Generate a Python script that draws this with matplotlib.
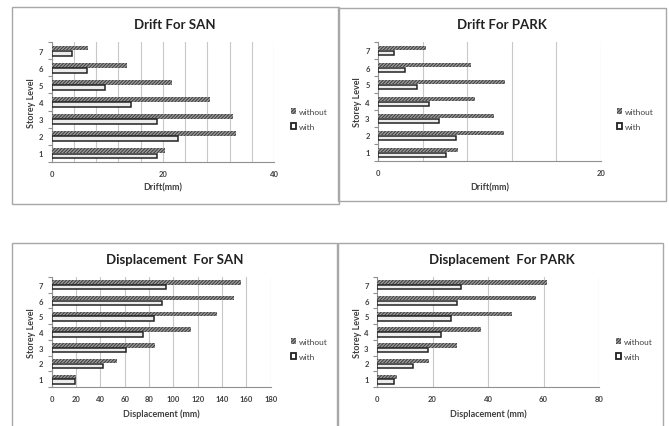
import numpy as np
import matplotlib
matplotlib.use("Agg")
import matplotlib.pyplot as plt
from matplotlib.patches import Rectangle, Patch

plt.rcParams['font.family'] = ['Lato', 'DejaVu Sans']
plt.rcParams['hatch.linewidth'] = 0.7

#%% Data
storeys = [1, 2, 3, 4, 5, 6, 7]

drift_san_without = [20.3, 33.1, 32.6, 28.4, 21.6, 13.6, 6.6]
drift_san_with = [19.0, 22.7, 18.9, 14.2, 9.6, 6.4, 3.7]

drift_park_without = [7.2, 11.3, 10.4, 8.7, 11.4, 8.3, 4.3]
drift_park_with = [6.1, 7.0, 5.5, 4.6, 3.5, 2.4, 1.4]

disp_san_without = [20.3, 53.4, 85.2, 114.5, 135.6, 149.6, 155.6]
disp_san_with = [19.2, 41.9, 60.8, 74.8, 84.1, 91.0, 94.2]

disp_park_without = [7.1, 18.6, 28.8, 37.6, 48.8, 57.2, 61.4]
disp_park_with = [6.2, 13.1, 18.5, 23.0, 26.5, 28.9, 30.2]

W, H = 669, 427
fig = plt.figure(figsize=(W / 100, H / 100), dpi=100)
fig.patch.set_facecolor('white')

TXT = '#404040'
GRID = '#c8c8c8'
HATCH_FACE = '#9a9a9a'
HATCH_LINE = '#3c3c3c'
HATCH = '//////////'


def px_rect(x0, y0, x1, y1):
    # pixel box (from top-left) -> figure fraction rect
    return [x0 / W, 1 - y1 / H, (x1 - x0) / W, (y1 - y0) / H]


def frame(x0, y0, x1, y1):
    fig.patches.append(Rectangle((x0 / W, 1 - y1 / H), (x1 - x0) / W, (y1 - y0) / H,
                                 transform=fig.transFigure, fill=False,
                                 edgecolor='#a8a8a8', linewidth=1.0, zorder=0))


def storey_chart(box, without, with_, title, xlabel, xmax, major, minor,
                 title_xy, xlabel_y, ylabel_x, legend_xy):
    ax = fig.add_axes(px_rect(*box))
    y = np.array(storeys)
    h = 0.28
    # "without" series: dense dark hatch
    ax.barh(y + 0.15, without, height=h, color=HATCH_FACE, edgecolor=HATCH_LINE,
            linewidth=0, hatch=HATCH, zorder=3)
    # "with" series: light fill with dark outline
    ax.barh(y - 0.15, with_, height=h, color='#ececec', edgecolor='#222222',
            linewidth=1.1, zorder=3)

    ax.set_xlim(0, xmax)
    ax.set_ylim(0.5, 7.5)
    ax.set_xticks(np.arange(0, xmax + 0.1, major))
    ax.set_xticks(np.arange(0, xmax + 0.1, minor), minor=True)
    ax.set_yticks(storeys)
    ax.set_yticks(np.arange(0.5, 7.6, 1.0), minor=True)
    ax.grid(axis='x', which='both', color=GRID, linewidth=0.8, zorder=0)
    ax.tick_params(axis='x', which='both', length=0, labelsize=5.5,
                   labelcolor=TXT, pad=6)
    ax.tick_params(axis='y', which='major', length=0, labelsize=5.5,
                   labelcolor=TXT, pad=6)
    ax.tick_params(axis='y', which='minor', length=3, color='#909090', width=0.8)
    for lab in ax.get_xticklabels() + ax.get_yticklabels():
        lab.set_fontweight('bold')
    for s in ['top', 'right']:
        ax.spines[s].set_visible(False)
    for s in ['left', 'bottom']:
        ax.spines[s].set_color('#909090')
        ax.spines[s].set_linewidth(0.8)

    fig.text(title_xy[0] / W, 1 - title_xy[1] / H, title, ha='center', va='center',
             fontsize=9.5, fontweight='bold', color='#222222')
    fig.text((box[0] + box[2]) / 2 / W, 1 - xlabel_y / H, xlabel, ha='center',
             va='center', fontsize=6.5, fontweight='bold', color=TXT)
    fig.text(ylabel_x / W, 1 - (box[1] + box[3]) / 2 / H, 'Storey Level', ha='center',
             va='center', rotation=90, fontsize=6.5, fontweight='bold', color=TXT)

    handles = [Patch(facecolor=HATCH_FACE, edgecolor=HATCH_LINE, linewidth=0, hatch=HATCH),
               Patch(facecolor='white', edgecolor='#222222', linewidth=1.3)]
    fig.legend(handles, ['without', 'with'], loc='center left',
               bbox_to_anchor=(legend_xy[0] / W, 1 - legend_xy[1] / H),
               frameon=False, fontsize=6, handlelength=0.6, handleheight=0.7,
               handletextpad=0.3, labelspacing=1.0, labelcolor=TXT,
               borderaxespad=0, borderpad=0)
    return ax


#%% Frames around each chart
frame(12, 8, 339, 205)
frame(338, 9, 666, 202)
frame(12, 244, 337, 440)
frame(338, 244, 663, 440)

#%% Charts
storey_chart((51.7, 43, 274, 163), drift_san_without, drift_san_with,
             'Drift For SAN', 'Drift(mm)', 40, 20, 4,
             (175, 25), 188, 32, (291, 120))
storey_chart((378, 43, 601, 162), drift_park_without, drift_park_with,
             'Drift For PARK', 'Drift(mm)', 20, 20, 4,
             (502, 25), 188, 357, (617, 120))
storey_chart((51.7, 278, 270.7, 388), disp_san_without, disp_san_with,
             'Displacement  For SAN', 'Displacement (mm)', 180, 20, 20,
             (175, 260), 414, 32, (291, 350))
storey_chart((377, 278, 599, 388), disp_park_without, disp_park_with,
             'Displacement  For PARK', 'Displacement (mm)', 80, 20, 20,
             (502, 260), 414, 357, (616, 350))

fig.savefig('out.png', dpi=100)
